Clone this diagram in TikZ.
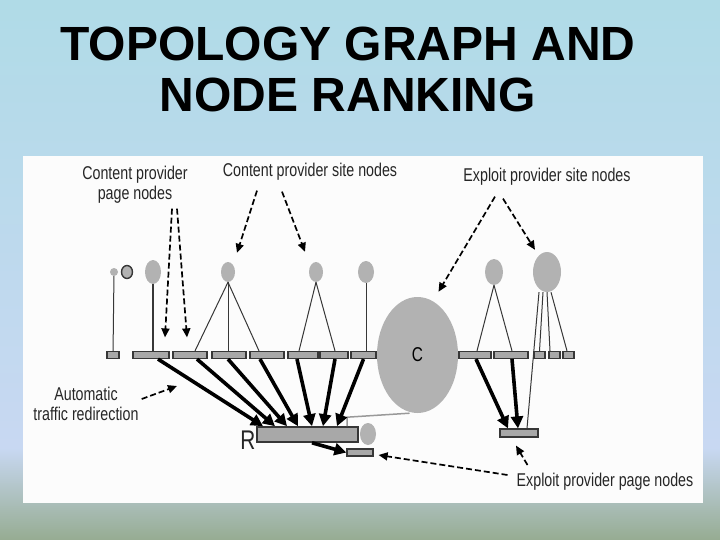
\documentclass[tikz,border=0pt]{standalone}
\usepackage{fontspec}
\setmainfont{Liberation Sans}
\newfontfamily\labelfont[FakeStretch=0.77]{Liberation Sans}
\usepackage{xcolor}
\usepackage{tikz}
\usetikzlibrary{shapes,arrows.meta,positioning}

\definecolor{sitegray}{RGB}{178,178,178}
\definecolor{pagegray}{RGB}{168,168,168}
\definecolor{edgegray}{RGB}{55,55,55}
\definecolor{skytop}{RGB}{176,219,231}
\definecolor{skymid}{RGB}{200,216,242}
\definecolor{sagebot}{RGB}{150,172,146}

\begin{document}
\begin{tikzpicture}[x=1pt, y=-1pt,
    site/.style={ellipse, fill=sitegray, inner sep=0},
    page/.style={rectangle, draw=edgegray, line width=1.2pt, fill=pagegray, inner sep=0, minimum height=7pt},
    tie/.style={draw=edgegray, line width=1pt},
    redir/.style={draw=black, line width=3.6pt, -{Triangle[length=12pt,width=12pt]}},
    hint/.style={draw=black, line width=1.7pt, dash pattern=on 6pt off 3pt, -{Triangle[length=9pt,width=8pt]}},
    note/.style={font=\labelfont\fontsize{18.5}{20}\selectfont, align=center, inner sep=0, text=black!85}]
    \useasboundingbox (0,0) rectangle (720,540);
    \shade[top color=skytop, bottom color=skymid] (0,0) rectangle (720,448);
    \shade[top color=skymid, bottom color=sagebot] (0,448) rectangle (720,540);
    \fill[white!98!gray] (23,156) rectangle (703,503);

    \node[font=\bfseries\fontsize{48}{51}\selectfont, align=center, inner sep=0, anchor=north] (title) at (348,27) {TOPOLOGY GRAPH AND\\NODE RANKING};

    % site nodes
    \node[site, minimum width=8pt, minimum height=8pt] (s0) at (114,272) {};
    \node[site, draw=edgegray, line width=1.4pt, minimum width=11pt, minimum height=13pt] (s0b) at (127,272) {};
    \node[site, minimum width=16pt, minimum height=24pt] (s1) at (153,272) {};
    \node[site, minimum width=14pt, minimum height=20pt] (s2) at (228,272) {};
    \node[site, minimum width=14pt, minimum height=20pt] (s3) at (316,272) {};
    \node[site, minimum width=16pt, minimum height=22pt] (s4) at (366,272) {};
    \node[site, minimum width=18pt, minimum height=26pt] (s5) at (494,272) {};
    \node[site, minimum width=28pt, minimum height=40pt] (s6) at (547,272) {};
    \node[site, minimum width=81pt, minimum height=116pt, font=\labelfont\fontsize{20}{20}\selectfont] (cbig) at (417.5,355) {C};

    % page nodes
    \foreach \n/\x/\w in {p0/113/12, p1/151/36, p2/190/34, p3/229/34, p4/267/34, p5/303/30, p6/334/28, p7/363.5/25,
                          q1/475/32, q2/511/34, q3/539.5/11, q4/554.5/11, q5/568.5/11}
        \node[page, minimum width=\w pt] (\n) at (\x,355) {};
    \node[page, minimum width=38pt, minimum height=8pt] (e1) at (519,433) {};
    \node[site, minimum width=16pt, minimum height=22pt] (s7) at (368,434) {};
    \node[page, minimum width=101pt, minimum height=15pt, line width=1.6pt] (rnode) at (307.5,434.5) {};
    \node[page, minimum width=26pt] (rs) at (360,452.5) {};
    \node[note, font=\labelfont\fontsize{27}{27}\selectfont] (rlabel) at (248,440) {R};

    % site to page links
    \draw[tie] (s0) -- (p0);
    \draw[tie, line width=1.4pt] (s1.south) -- ([xshift=2]p1.north);
    \draw[tie] (s2.south) -- ([xshift=5]p2.north);
    \draw[tie] (s2.south) -- ([xshift=-1]p3.north);
    \draw[tie] (s2.south) -- ([xshift=-8]p4.north);
    \draw[tie] (s3.south) -- ([xshift=-4]p5.north);
    \draw[tie] (s3.south) -- ([xshift=1]p6.north);
    \draw[tie] (s4.south) -- ([xshift=2.5]p7.north);
    \draw[tie] (s5.south) -- ([xshift=2]q1.north);
    \draw[tie] (s5.south) -- ([xshift=1]q2.north);
    \draw[tie] ([xshift=-4]s6.south) -- (q3.north);
    \draw[tie] (s6.south) -- ([xshift=-4.5]q4.north);
    \draw[tie] ([xshift=4]s6.south) -- ([xshift=-1.5]q5.north);
    \draw[tie] ([xshift=-8]s6.south) -- ([xshift=8]e1.north);
    \draw[gray!80, line width=1.5pt] ([xshift=39.5]rnode.north) -- ++(0,-9) -- ([xshift=-8]cbig.south);

    % redirections
    \foreach \p/\a/\b in {p1/7/-44.5, p2/7/-32.5, p3/-1/-20.5, p4/-7/-9.5, p5/-6/4.5, p6/1/15.5, p7/0/29.5}
        \draw[redir] ([xshift=\a]\p.south) -- ([xshift=\b]rnode.north);
    \draw[redir] ([xshift=1]q1.south) -- ([xshift=-11]e1.north);
    \draw[redir] ([xshift=1]q2.south) -- ([xshift=-1]e1.north);
    \draw[redir] ([xshift=4.5]rnode.south) -- (rs.west);

    % labels
    \node[note, anchor=north] (lcp) at (135,166) {Content provider\\page nodes};
    \node[note, anchor=north] (lcs) at (310,163) {Content provider site nodes};
    \node[note, anchor=north] (les) at (547,168) {Exploit provider site nodes};
    \node[note, anchor=north] (lat) at (86,387) {Automatic\\traffic redirection};
    \node[note, anchor=north] (lep) at (605,473) {Exploit provider page nodes};
    \coordinate (redirtip) at (177,386);

    \draw[hint] ([xshift=37,yshift=-5]lcp.south) -- ([xshift=14,yshift=13.5]p1.north);
    \draw[hint] ([xshift=42,yshift=-5]lcp.south) -- ([xshift=-3,yshift=13.5]p2.north);
    \draw[hint] ([xshift=-53,yshift=-10]lcs.south) -- ([xshift=9,yshift=9]s2.north);
    \draw[hint] ([xshift=-28,yshift=-11]lcs.south) -- ([xshift=-11,yshift=10]s3.north);
    \draw[hint] ([xshift=-52,yshift=-11]les.south) -- ([xshift=21,yshift=5]cbig.north);
    \draw[hint] ([xshift=-44,yshift=-13]les.south) -- ([xshift=-12,yshift=2]s6.north);
    \draw[hint] ([xshift=3,yshift=-12]lat.north east) -- (redirtip);
    \draw[hint] ([xshift=-9,yshift=-2]lep.north west) -- ([xshift=5,yshift=-2.5]rs.east);
    \draw[hint] ([xshift=11,yshift=8]lep.north west) -- ([xshift=-3,yshift=-8]e1.south);
\end{tikzpicture}
\end{document}
